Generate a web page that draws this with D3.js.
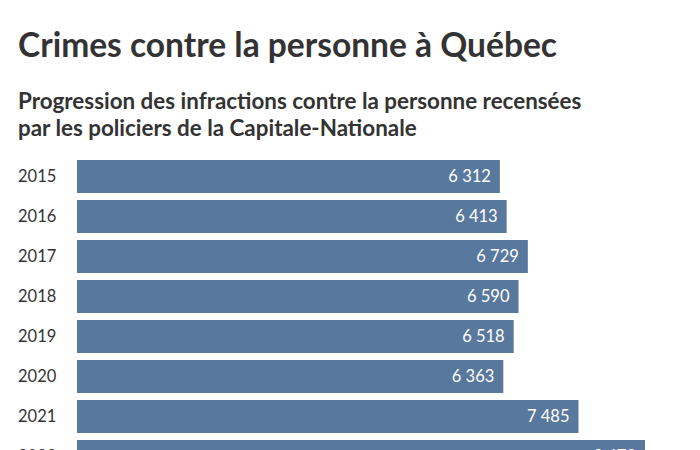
<!DOCTYPE html>
<html>
<head>
<meta charset="utf-8">
<script src="https://cdn.jsdelivr.net/npm/d3@7"></script>
<style>
  html, body { margin: 0; padding: 0; background: #fff; }
  svg { display: block; font-family: Lato, "Open Sans", sans-serif; }
</style>
</head>
<body>
<svg id="chart" width="700" height="450"></svg>
<script>
const years = ["2015", "2016", "2017", "2018", "2019", "2020", "2021", "2022"];
const values = [6312, 6413, 6729, 6590, 6518, 6363, 7485, 8478];
const title = "Crimes contre la personne à Québec";
const subtitleLines = ["Progression des infractions contre la personne recensées",
                       "par les policiers de la Capitale-Nationale"];

const svg = d3.select("#chart");

svg.append("text")
  .attr("x", 18).attr("y", 57)
  .attr("font-size", 35).attr("font-weight", 700)
  .attr("fill", "#333")
  .attr("textLength", 539).attr("lengthAdjust", "spacingAndGlyphs")
  .text(title);

svg.selectAll("text.sub").data(subtitleLines).join("text")
  .attr("class", "sub")
  .attr("x", 18).attr("y", (d, i) => 109 + i * 27)
  .attr("font-size", 22.4).attr("font-weight", 700)
  .attr("fill", "#333")
  .text(d => d);

const x = d3.scaleLinear().domain([0, 8478]).range([77, 645]);
const y = d3.scaleBand().domain(years).range([160, 473]).paddingInner(0.175).paddingOuter(0);

const g = svg.append("g");
g.selectAll("rect").data(years).join("rect")
  .attr("x", x(0))
  .attr("y", d => y(d))
  .attr("width", (d, i) => x(values[i]) - x(0))
  .attr("height", y.bandwidth())
  .attr("fill", "#59789e");

const fmt = v => d3.format(",")(v).replace(/,/g, " ");

g.selectAll("text.val").data(years).join("text")
  .attr("class", "val")
  .attr("x", (d, i) => x(values[i]) - 9)
  .attr("y", d => y(d) + y.bandwidth() / 2)
  .attr("dy", "0.36em")
  .attr("text-anchor", "end")
  .attr("font-size", 16.5)
  .attr("fill", "#fff")
  .text((d, i) => fmt(values[i]));

const yAxis = d3.axisLeft(y).tickSize(0).tickPadding(0);
const ax = svg.append("g").attr("transform", "translate(18,0)").call(yAxis);
ax.select(".domain").remove();
ax.selectAll("text")
  .attr("text-anchor", "start")
  .attr("font-family", "Lato, 'Open Sans', sans-serif")
  .attr("font-size", 16.5)
  .attr("fill", "#333")
  .attr("dy", "0.36em");
</script>
</body>
</html>
